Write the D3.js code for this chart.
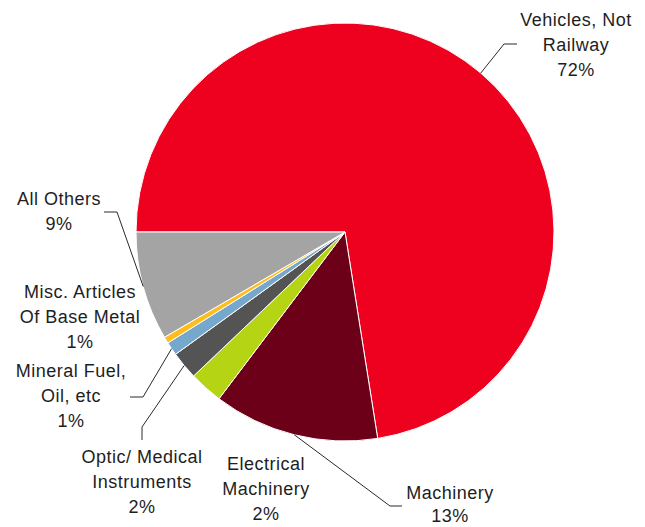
<!DOCTYPE html>
<html><head><meta charset="utf-8">
<script src="https://cdn.jsdelivr.net/npm/d3@7"></script>
<style>
html,body{margin:0;padding:0;background:#fff;}
svg{display:block;}
text{font-family:"Liberation Sans",Arial,sans-serif;font-size:18px;fill:#1e1e1e;letter-spacing:0.5px;}
</style></head><body>
<svg id="chart" width="645" height="527"></svg>
<script>
// ---- data ----
const categories = ["Vehicles, Not Railway","Machinery","Electrical Machinery","Optic/ Medical Instruments","Mineral Fuel, Oil, etc","Misc. Articles Of Base Metal","All Others"];
const shares = [72.5, 12.8, 2.6, 2.15, 1.05, 0.5, 8.4];
const shareLabels = ["72%","13%","2%","2%","1%","1%","9%"];
const labelLines = [["Vehicles, Not","Railway"],["Machinery"],["Electrical","Machinery"],["Optic/ Medical","Instruments"],["Mineral Fuel,","Oil, etc"],["Misc. Articles","Of Base Metal"],["All Others"]];
const colors = ["#ee001f","#6c0018","#b4d414","#545454","#76a7cc","#ffbd1c","#a4a4a4"];

// ---- layout ----
const cx = 345, cy = 232, R = 209, lineH = 25;
const layout = [
  {x:576, y:26, lh:25, leader:[[504,44],[517,44]]},
  {x:450, y:499, lh:23, leader:[[390,506],[402,506]]},
  {x:266, y:470, lh:25, leader:null},
  {x:142, y:463, lh:25, leader:[[142,427],[142,440]]},
  {x:71,  y:377, lh:25, leader:[[143,397],[130,397]]},
  {x:80,  y:298, lh:25, leader:null},
  {x:59,  y:205, lh:25, leader:[[117,212],[104,212]]}
];

const svg = d3.select("#chart");
const pie = d3.pie().sort(null).value(d => d)
  .startAngle(-Math.PI/2).endAngle(3*Math.PI/2);
const arcs = pie(shares);
const arc = d3.arc().innerRadius(0).outerRadius(R);

const g = svg.append("g").attr("transform", `translate(${cx},${cy})`);
g.selectAll("path").data(arcs).join("path")
  .attr("d", arc)
  .attr("fill", (d,i) => colors[i])
  .attr("stroke", "#fff")
  .attr("stroke-width", 1)
  .attr("stroke-linejoin", "round");

// leaders
arcs.forEach((d,i) => {
  const L = layout[i];
  if (!L.leader) return;
  const a = (d.startAngle + d.endAngle)/2;
  const p0 = [cx + R*Math.sin(a), cy - R*Math.cos(a)];
  const pts = [p0, ...L.leader];
  svg.append("path")
    .attr("d", d3.line()(pts))
    .attr("fill","none")
    .attr("stroke","#2a2a2a")
    .attr("stroke-width",1);
});

// labels
arcs.forEach((d,i) => {
  const L = layout[i];
  const lines = [...labelLines[i], shareLabels[i]];
  const t = svg.append("text").attr("text-anchor","middle");
  lines.forEach((s,k) => {
    t.append("tspan").attr("x", L.x).attr("y", L.y + k*L.lh).text(s);
  });
});
</script>
</body></html>
